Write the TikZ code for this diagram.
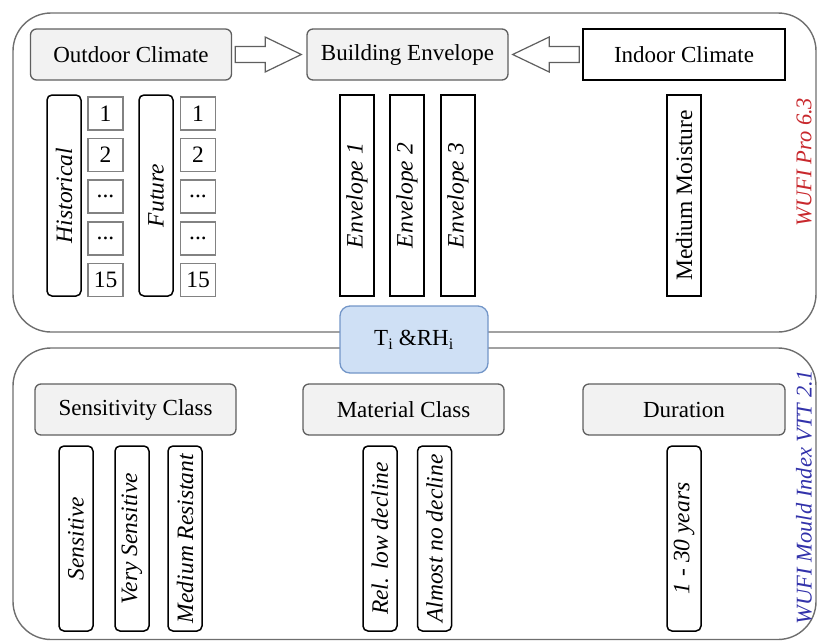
\documentclass[tikz,border=0pt]{standalone}
\usepackage{fontspec}
\setmainfont{Liberation Serif}
\usetikzlibrary{calc}
\definecolor{hdrfill}{RGB}{242,242,242}
\definecolor{hdrline}{RGB}{95,95,95}
\definecolor{outline}{RGB}{110,110,110}
\definecolor{tfill}{RGB}{207,224,245}
\definecolor{tline}{RGB}{115,150,200}
\definecolor{wred}{RGB}{200,40,45}
\definecolor{wblue}{RGB}{50,50,170}
\definecolor{numline}{RGB}{130,130,130}
\tikzset{
  every node/.style={font=\fontsize{23}{27}\selectfont, inner sep=0pt},
  outerbox/.style={draw=outline, line width=1.4pt, rounded corners=38pt},
  hdr/.style={draw=hdrline, fill=hdrfill, line width=1.3pt, rounded corners=6pt,
    minimum width=201pt, minimum height=51pt},
  ichdr/.style={draw=black, fill=white, line width=1.6pt,
    minimum width=202pt, minimum height=51pt},
  vbox/.style={draw=black, line width=1.5pt, rotate=90, minimum height=34pt,
    font=\fontsize{23.5}{27}\selectfont\itshape},
  vround/.style={vbox, rounded corners=5pt},
  numbox/.style={draw=numline, line width=1.2pt, minimum width=35pt, minimum height=33pt,
    font=\fontsize{23.5}{27}\selectfont},
  tbox/.style={draw=tline, fill=tfill, line width=1.3pt, rounded corners=10pt,
    minimum width=148pt, minimum height=67pt},
  blockarrow/.style={draw=hdrline, fill=white, line width=1.2pt, line join=miter},
  sidelabel/.style={rotate=90, font=\fontsize{22.5}{27}\selectfont\itshape}
}
\newcommand{\mydots}{...}
\begin{document}
\begin{tikzpicture}[x=1pt,y=-1pt]
\useasboundingbox (0,0) rectangle (817,641);
\clip (0,0) rectangle (817,641);
% outer frames
\draw[outerbox] (13,13) rectangle (816,332);
\draw[outerbox] (13,348) rectangle (816,639.5);

% top headers
\node[hdr] (oc) at (131,54.5) {Outdoor Climate};
\node[hdr] (be) at (407.5,54.5) {Building Envelope};
\node[ichdr] (ic) at (684,54.5) {Indoor Climate};

% block arrows
\draw[blockarrow] ($(oc.east)+(3,-8)$) -- ($(oc.east)+(33,-8)$) -- ($(oc.east)+(33,-17.5)$)
  -- ($(be.west)+(-5,0)$) -- ($(oc.east)+(33,17.5)$) -- ($(oc.east)+(33,8)$)
  -- ($(oc.east)+(3,8)$) -- cycle;
\draw[blockarrow] ($(ic.west)+(-3,-8)$) -- ($(ic.west)+(-33,-8)$) -- ($(ic.west)+(-33,-17.5)$)
  -- ($(be.east)+(4,0)$) -- ($(ic.west)+(-33,17.5)$) -- ($(ic.west)+(-33,8)$)
  -- ($(ic.west)+(-3,8)$) -- cycle;

% top vertical boxes
\node[vround, minimum width=201pt] (hist) at (64,195.5) {Historical};
\node[vround, minimum width=201pt] (fut) at (156,195.5) {Future};
\node[numbox] (na1) at (105.5,113.5) {1};
\node[numbox] (na2) at (105.5,155) {2};
\node[numbox] (na3) at (105.5,196.5) {\mydots};
\node[numbox] (na4) at (105.5,238.5) {\mydots};
\node[numbox] (na5) at (105.5,280) {15};
\node[numbox] (nb1) at (198,113.5) {1};
\node[numbox] (nb2) at (198,155) {2};
\node[numbox] (nb3) at (198,196.5) {\mydots};
\node[numbox] (nb4) at (198,238.5) {\mydots};
\node[numbox] (nb5) at (198,280) {15};
\node[vbox, minimum width=201pt] (env1) at (357,195.5) {Envelope 1};
\node[vbox, minimum width=201pt] (env2) at (407,195.5) {Envelope 2};
\node[vbox, minimum width=201pt] (env3) at (458,195.5) {Envelope 3};
\node[vbox, minimum width=201pt, font=\fontsize{23.5}{27}\selectfont\upshape] (mm) at (684,195.5) {Medium Moisture};
\node[sidelabel, text=wred] (wufi) at (804,162) {WUFI Pro 6.3};

% central exchange
\node[tbox] (ti) at (414,339.5) {T\textsubscript{i} \&RH\textsubscript{i}};

% bottom headers
\node[hdr] (sc) at (135.5,409.5) {Sensitivity Class};
\node[hdr] (mc) at (403.5,409.5) {Material Class};
\node[hdr, minimum width=202pt] (dur) at (684,409.5) {Duration};

% bottom vertical boxes
\node[vround, minimum width=185pt] (sens) at (76,538.5) {Sensitive};
\node[vround, minimum width=185pt] (vsens) at (132,538.5) {Very Sensitive};
\node[vround, minimum width=185pt] (mres) at (185,538.5) {Medium Resistant};
\node[vround, minimum width=185pt] (rel) at (380,538.5) {Rel. low decline};
\node[vround, minimum width=185pt] (alm) at (434.5,538.5) {Almost no decline};
\node[vround, minimum width=185pt] (yrs) at (684,538.5) {1 - 30 years};
\node[sidelabel, text=wblue] (mould) at (804,497) {WUFI Mould Index VTT 2.1};
\end{tikzpicture}
\end{document}
